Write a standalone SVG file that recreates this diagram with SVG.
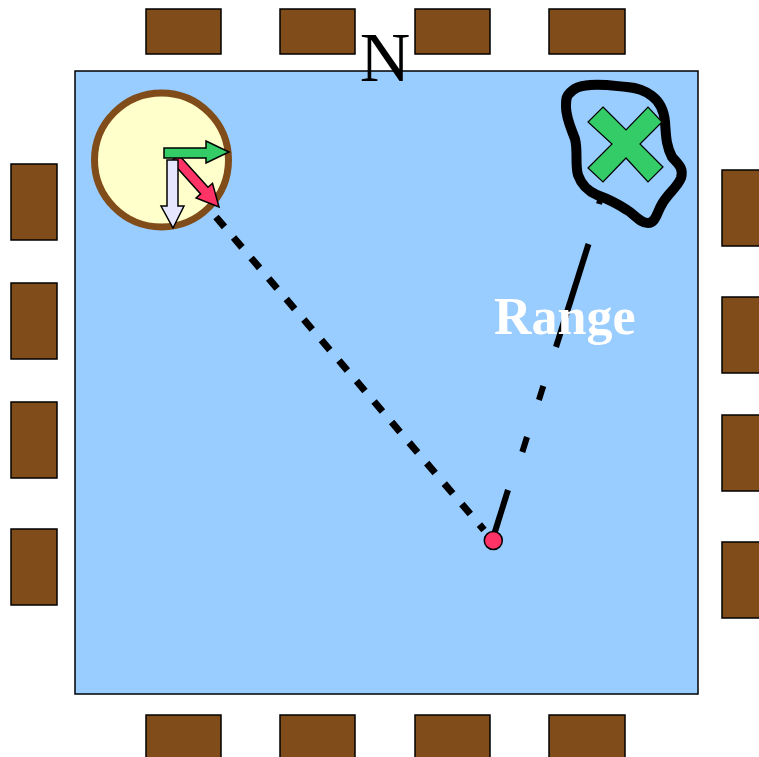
<svg xmlns="http://www.w3.org/2000/svg" width="759" height="757" viewBox="0 0 759 757">
<style>
.box{fill:#7f4c1a;stroke:#000;stroke-width:1.5}
.arr{stroke:#000;stroke-width:1.5;stroke-linejoin:miter}
</style>
<rect width="759" height="757" fill="#fff"/>
<g id="desks">
<rect class="box" x="146" y="9" width="75" height="45"/>
<rect class="box" x="280" y="9" width="75" height="45"/>
<rect class="box" x="415" y="9" width="75" height="45"/>
<rect class="box" x="549" y="9" width="76" height="45"/>
<rect class="box" x="146" y="715" width="75" height="50"/>
<rect class="box" x="280" y="715" width="75" height="50"/>
<rect class="box" x="415" y="715" width="75" height="50"/>
<rect class="box" x="549" y="715" width="76" height="50"/>
<rect class="box" x="11" y="164" width="46" height="76"/>
<rect class="box" x="11" y="283" width="46" height="76"/>
<rect class="box" x="11" y="402" width="46" height="76"/>
<rect class="box" x="11" y="529" width="46" height="76"/>
<rect class="box" x="722" y="170" width="46" height="76"/>
<rect class="box" x="722" y="297" width="46" height="76"/>
<rect class="box" x="722" y="415" width="46" height="76"/>
<rect class="box" x="722" y="542" width="46" height="76"/>
</g>
<g id="room">
<rect x="75" y="71" width="623" height="623" fill="#99ccff" stroke="#000" stroke-width="1.5"/>
</g>
<g id="start">
<circle cx="161.5" cy="160" r="67" fill="#ffffcc" stroke="#7f4c1a" stroke-width="7"/>
</g>
<g id="connectors" stroke="#000" fill="none" stroke-width="7">
<line x1="216" y1="217" x2="484" y2="530" stroke-dasharray="13 14"/>
<line x1="493" y1="538" x2="508" y2="490" stroke-width="6"/>
<line x1="527" y1="437" x2="522.3" y2="452" stroke-width="6"/>
<line x1="543.3" y1="386" x2="538.9" y2="400" stroke-width="6"/>
<line x1="556" y1="347" x2="588.5" y2="244" stroke-width="6"/>
<line x1="601" y1="197" x2="599" y2="204" stroke-width="6"/>
</g>
<g id="arrows">
<polygon class="arr" fill="#ff3366" points="178.7,154.7 208,187.3 212.5,183.3 219,207 196.1,197.9 200.6,193.9 171.3,161.3"/>
<polygon class="arr" fill="#e6e6ff" points="167,160 178,160 178,206 184,206 173,228 161,206 167,206"/>
<polygon class="arr" fill="#33cc66" points="164,148 206,148 206,141 229,152 206,163 206,158 164,158"/>
</g>
<g id="position">
<circle cx="493.3" cy="540.5" r="9" fill="#ff3366" stroke="#000" stroke-width="1.5"/>
</g>
<g id="target">
<path d="M568,95 C575,86 583,86 590,85 C605,84 615,86 627,87 C640,88 647,92 652,96 C660,102 664,110 665,122 C666,135 666,146 672,157 C678,164 684,168 681,178 C677,188 668,193 662,204 C657,212 656,223 648,223 C640,223 634,214 627,210 C618,204 608,199 597,195 C588,191 582,186 578,175 C575,165 578,150 575,139 C571,128 566,118 566,107 C566,101 566,98 568,95 Z" fill="none" stroke="#000" stroke-width="10" stroke-linejoin="round"/>
<polygon fill="#33cc66" stroke="#000" stroke-width="1.2" points="603,107 626,130 648,107 662,122 640,144 663,167 648,182 626,158 603,182 588,168 612,144 588,122"/>
</g>
<g id="labels">
<text x="494" y="334" font-family="Liberation Serif, serif" font-weight="bold" font-size="52" fill="#fff">Range</text>
<text x="385" y="81" font-family="Liberation Serif, serif" font-size="70" fill="#000" text-anchor="middle">N</text>
</g>
</svg>
